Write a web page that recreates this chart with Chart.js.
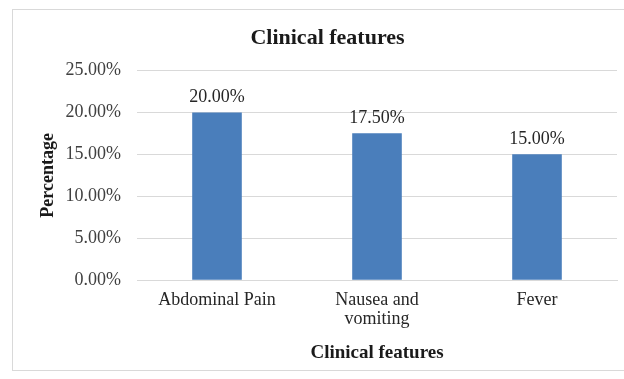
<!DOCTYPE html>
<html>
<head>
<meta charset="utf-8">
<script src="https://cdn.jsdelivr.net/npm/chart.js@4.4.0/dist/chart.umd.min.js"></script>
<style>
  html, body { margin: 0; padding: 0; background: #fff; }
  #wrap { position: relative; width: 624px; height: 379px; }
</style>
</head>
<body>
<div id="wrap"><canvas id="grafica" width="624" height="379"></canvas></div>
<script>
// Datos del grafico
const categorias = [["Abdominal Pain"], ["Nausea and", "vomiting"], ["Fever"]];
const porcentajes = [20.0, 17.5, 15.0];
const tituloGrafico = "Clinical features";
const tituloEjeX = "Clinical features";
const tituloEjeY = "Percentage";

const serif = "'Liberation Serif', 'Times New Roman', serif";

// Marco gris alrededor del grafico
const marco = {
    id: 'marco',
    beforeDraw(chart) {
        const c = chart.ctx;
        c.save();
        c.fillStyle = '#ffffff';
        c.fillRect(0, 0, chart.width, chart.height);
        c.strokeStyle = '#d9d9d9';
        c.lineWidth = 1;
        c.strokeRect(12.5, 9.5, 640, 361);
        c.restore();
    }
};

// Etiquetas encima de cada barra
const etiquetas = {
    id: 'etiquetas',
    afterDatasetsDraw(chart) {
        const c = chart.ctx;
        const meta = chart.getDatasetMeta(0);
        c.save();
        c.font = "18px " + serif;
        c.fillStyle = '#262626';
        c.textAlign = 'center';
        c.textBaseline = 'bottom';
        meta.data.forEach((barra, i) => {
            c.fillText(porcentajes[i].toFixed(2) + "%", barra.x, barra.y - 6);
        });
        c.restore();
    }
};

const ctx = document.getElementById("grafica").getContext("2d");
new Chart(ctx, {
    type: 'bar',
    data: {
        labels: categorias,
        datasets: [{
            data: porcentajes,
            backgroundColor: '#4a7ebb',
            borderWidth: 0,
            barPercentage: 0.62,
            categoryPercentage: 0.5
        }]
    },
    options: {
        responsive: false,
        animation: false,
        layout: { padding: { left: 38, right: 7, top: 10, bottom: 15 } },
        plugins: {
            legend: { display: false },
            tooltip: { enabled: false },
            title: {
                display: true,
                text: tituloGrafico,
                color: '#1a1a1a',
                font: { family: serif, size: 22, weight: 'bold' },
                padding: { top: 15, bottom: 19 }
            }
        },
        scales: {
            y: {
                min: 0,
                max: 25,
                afterFit: escala => { escala.width = 99; },
                ticks: {
                    stepSize: 5,
                    color: '#404040',
                    padding: 16,
                    font: { family: serif, size: 18 },
                    callback: v => v.toFixed(2) + "%"
                },
                grid: { color: '#d9d9d9', drawTicks: false },
                border: { display: false },
                title: {
                    display: true,
                    text: tituloEjeY,
                    color: '#1a1a1a',
                    font: { family: serif, size: 18, weight: 'bold' },
                    padding: { top: 0, bottom: 0 }
                }
            },
            x: {
                ticks: {
                    color: '#262626',
                    padding: 11,
                    font: { family: serif, size: 18, lineHeight: 1.05 }
                },
                grid: { display: false, drawTicks: false },
                border: { color: '#d9d9d9' },
                title: {
                    display: true,
                    text: tituloEjeX,
                    color: '#1a1a1a',
                    font: { family: serif, size: 19, weight: 'bold', lineHeight: 1.1 },
                    padding: { top: 3, bottom: 0 }
                }
            }
        }
    },
    plugins: [marco, etiquetas]
});
</script>
</body>
</html>
